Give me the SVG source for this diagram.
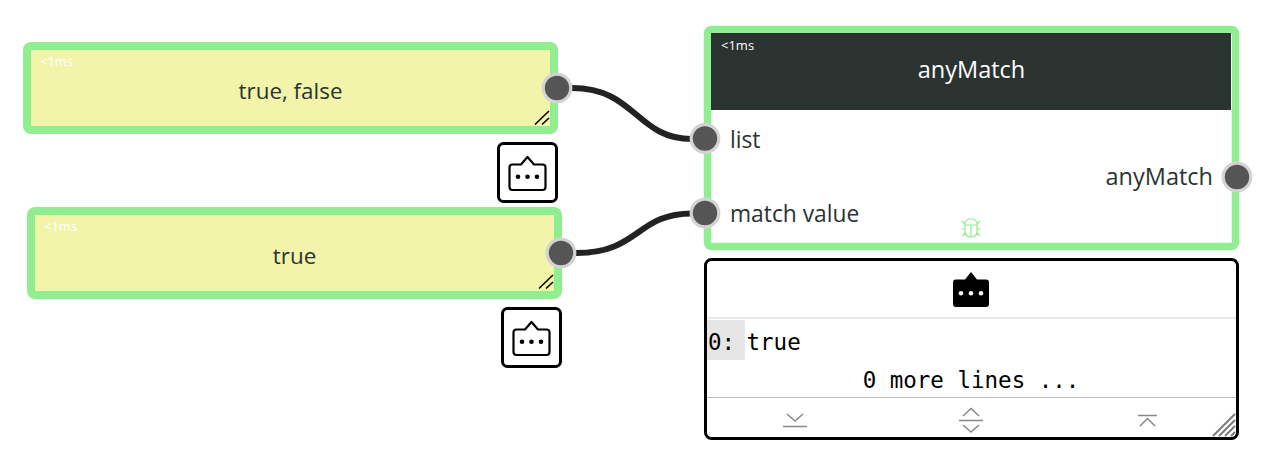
<svg xmlns="http://www.w3.org/2000/svg" width="1264" height="468" viewBox="0 0 1264 468">
<style>
.body{fill:#f2f4a9;stroke:#90ee90;stroke-width:8}
.ui{font-family:"Open Sans","Noto Sans","Liberation Sans",sans-serif;fill:#2b3331}
.lbl{font-size:22.800px}
.tm{font-size:13px;fill:#fff}
.mono{font-family:"DejaVu Sans Mono","Liberation Mono",monospace;font-size:22.500px;fill:#000}
.port{fill:#555;stroke:#d3d3d3;stroke-width:3.200}
.wire{fill:none;stroke:#222;stroke-width:6}
.btn{fill:#fff;stroke:#000;stroke-width:3}
.ico{fill:#fff;stroke:#000;stroke-width:2.200;stroke-linejoin:round}
.ctl{fill:none;stroke:#888;stroke-width:1.500}
</style>
<defs>
<g id="bubble">
<path class="ico" d="M-15 -9.500H-6.500L0 -17L6.500 -9.500H15Q18 -9.500 18 -6.500V13Q18 16 15 16H-15Q-18 16 -18 13V-6.500Q-18 -9.500 -15 -9.500Z"/>
<circle cx="-9.500" cy="2.700" r="2.300"/><circle cx="0" cy="2.700" r="2.300"/><circle cx="9.500" cy="2.700" r="2.300"/>
</g>
<g id="grip"><path d="M0 12.500L14 -1M7 12.500L14 6" fill="none" stroke="#000" stroke-width="1.600"/></g>
</defs>
<g id="connectors">
<path class="wire" d="M572 88C636 88 636 139 692 139"/>
<path class="wire" d="M576 253C640 253 636 213.500 692 213.500"/>
</g>
<g id="node-true-false">
<rect class="body" x="27" y="46" width="527" height="84" rx="4"/>
<text class="ui tm" x="40" y="66">&lt;1ms</text>
<text class="ui lbl" x="290.500" y="99" text-anchor="middle" style="font-size:22.400px">true, false</text>
<use href="#grip" x="535" y="112"/>
<circle class="port" cx="557" cy="88" r="13.800"/>
<rect class="btn" x="498.500" y="143.500" width="58" height="58" rx="5"/>
<use href="#bubble" x="527.500" y="174"/>
</g>
<g id="node-true">
<rect class="body" x="31" y="211" width="527" height="84" rx="4"/>
<text class="ui tm" x="44" y="231">&lt;1ms</text>
<text class="ui lbl" x="294.500" y="264" text-anchor="middle" style="font-size:22.400px">true</text>
<use href="#grip" x="539" y="276"/>
<circle class="port" cx="561" cy="253" r="13.800"/>
<rect class="btn" x="502.500" y="308.500" width="58" height="58" rx="5"/>
<use href="#bubble" x="531.500" y="339"/>
</g>
<g id="node-anymatch">
<rect x="707.500" y="29.500" width="528" height="217" rx="4" fill="#fff" stroke="#90ee90" stroke-width="7.500"/>
<rect x="711" y="33" width="520" height="77" fill="#2b3331"/>
<text class="ui tm" x="721" y="50">&lt;1ms</text>
<text class="ui lbl" x="971.500" y="78" text-anchor="middle" style="fill:#fff;font-size:23.500px">anyMatch</text>
<text class="ui lbl" x="730" y="148">list</text>
<text class="ui lbl" x="730" y="222">match value</text>
<text class="ui lbl" x="1213" y="185" text-anchor="end" style="font-size:23.500px">anyMatch</text>
<path fill="none" stroke="#90ee90" stroke-width="1.200" d="M965 224Q965 219 971 219Q977 219 977 224V231Q977 237 971 237Q965 237 965 231ZM965 225H977M971 225V237M965 224L962 221M977 224L980 221M965 229H961.500M977 229H980.500M965 233L962 236M977 233L980 236"/>
<circle class="port" cx="705" cy="138.500" r="13.800"/>
<circle class="port" cx="705" cy="213" r="13.800"/>
<circle class="port" cx="1237" cy="177" r="13.800"/>
</g>
<g id="output-panel">
<rect x="705.500" y="259.500" width="532" height="179" rx="6" fill="#fff" stroke="#000" stroke-width="3"/>
<path d="M707 318H1236" stroke="#e0e0e0" stroke-width="1.500"/>
<path d="M707 397.500H1236" stroke="#bbb"/>
<g transform="translate(971 291)">
<path d="M-15 -11.500H-6L0 -19L6 -11.500H15Q18 -11.500 18 -8.500V13Q18 16 15 16H-15Q-18 16 -18 13V-8.500Q-18 -11.500 -15 -11.500Z" fill="#000"/>
<circle cx="-10" cy="2.300" r="2.300" fill="#fff"/><circle cx="0" cy="2.300" r="2.300" fill="#fff"/><circle cx="10" cy="2.300" r="2.300" fill="#fff"/>
</g>
<rect x="707" y="320" width="38" height="40" fill="#e6e6e6"/>
<text class="mono" x="708" y="350">0:</text>
<text class="mono" x="746.500" y="350">true</text>
<text class="mono" x="971" y="388" text-anchor="middle">0 more lines ...</text>
<path class="ctl" d="M783 426.500H807M787 414L795 421L803 414"/>
<path class="ctl" d="M959 420.500H983M963 416L971 408.500L979 416M963 425L971 432L979 425"/>
<path class="ctl" d="M1138 415.500H1157M1140 426L1147.500 418.500L1155 426"/>
<path d="M1213 436L1235 414M1219 436L1235 420M1225 436L1235 426M1231 436L1235 432" fill="none" stroke="#777" stroke-width="1.800"/>
</g>
</svg>
